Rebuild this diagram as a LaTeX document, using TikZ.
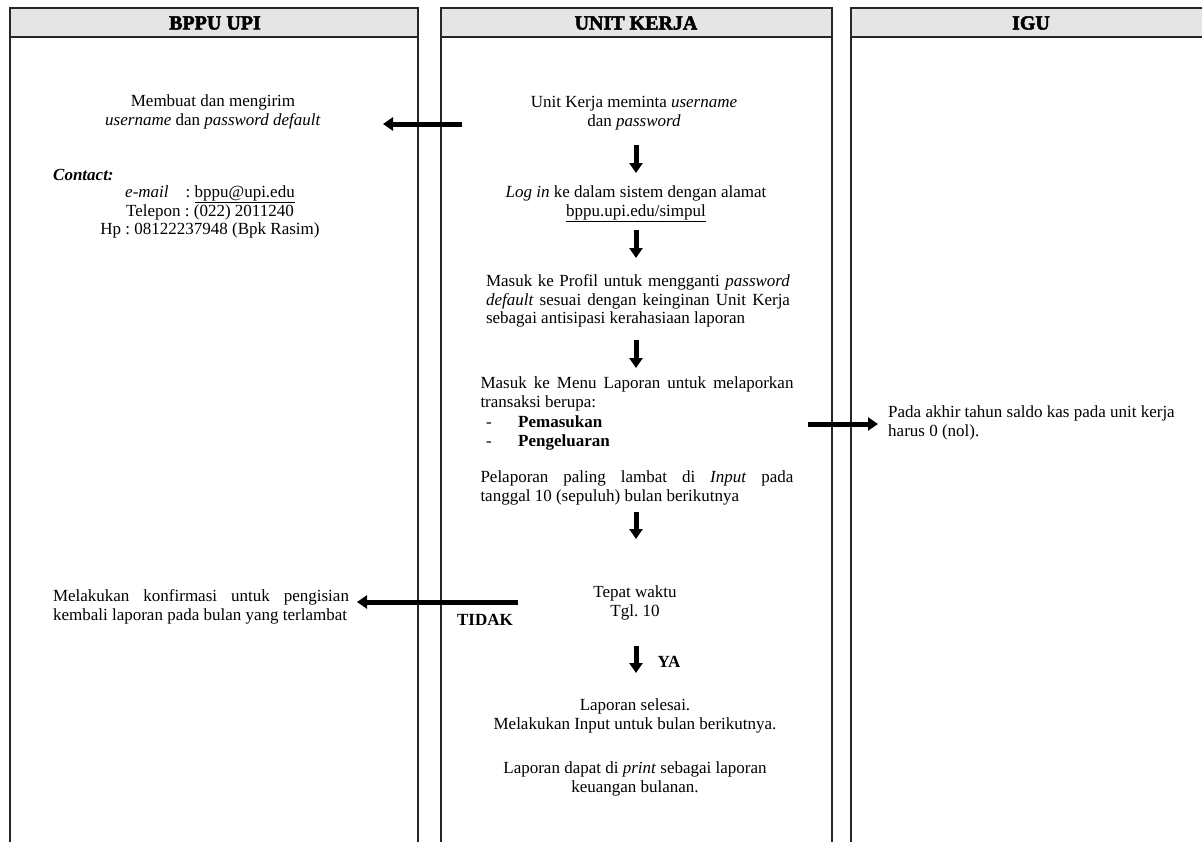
\documentclass[tikz,border=0pt]{standalone}
\usepackage{fontspec}
\setmainfont{Liberation Serif}
\newfontfamily\hfont[FakeBold=2.5]{Liberation Serif Bold}
\usetikzlibrary{arrows.meta}
\frenchspacing
\begin{document}
\begin{tikzpicture}[x=1pt,y=-1pt,
  lane/.style={draw=black!85,line width=1.6pt},
  headbox/.style={draw=black!85,line width=1.6pt,fill=gray!20},
  htxt/.style={font=\fontsize{20}{22}\selectfont\hfont,inner sep=0pt},
  txt/.style={font=\fontsize{17}{18.8}\selectfont,align=center,inner sep=0pt},
  ltxt/.style={font=\fontsize{17}{18.8}\selectfont,align=left,inner sep=0pt},
  jtxt/.style={font=\fontsize{17}{18.8}\selectfont,align=justify,inner sep=0pt},
  btxt/.style={font=\fontsize{17}{18.8}\selectfont\bfseries,inner sep=0pt},
  flow/.style={line width=5pt,-{Triangle[length=10pt,width=13pt]}},
]
\useasboundingbox (0,0) rectangle (1202,841);
\begin{scope}
\clip (0,0) rectangle (1202,841);
% lanes
\draw[lane] (10,850) -- (10,8) -- (418,8) -- (418,850);
\draw[lane] (441,850) -- (441,8) -- (832,8) -- (832,850);
\draw[lane] (851,850) -- (851,8) -- (1215,8) -- (1215,850);
\draw[headbox] (10,8) rectangle (418,37);
\draw[headbox] (441,8) rectangle (832,37);
\draw[headbox] (851,8) rectangle (1215,37);
\end{scope}
\node[htxt] (h1) at (215,23) {BPPU UPI};
\node[htxt] (h2) at (636,23) {UNIT KERJA};
\node[htxt] (h3) at (1031,23) {IGU};

% BPPU column
\node[txt] (buat) at (213,112) {Membuat dan mengirim\\\textit{username} dan \textit{password default}};
\node[ltxt,anchor=west] (contact) at (53,175) {\textbf{\textit{Contact:}}};
\node[txt] (kontak) at (210,212) {\textit{e-mail}\quad: \underline{bppu@upi.edu}\\Telepon : (022) 2011240\\Hp : 08122237948 (Bpk Rasim)};
\node[jtxt,text width=296pt] (konf) at (201,607) {Melakukan konfirmasi untuk pengisian\linebreak kembali laporan pada bulan yang terlambat};

% Unit kerja column
\node[txt] (minta) at (634,113) {Unit Kerja meminta \textit{username}\\dan \textit{password}};
\node[txt] (login) at (636,204) {\textit{Log in} ke dalam sistem dengan alamat\\\underline{bppu.upi.edu/simpul}};
\node[jtxt,text width=304pt] (profil) at (638,301) {Masuk ke Profil untuk mengganti \textit{password}\linebreak \textit{default} sesuai dengan keinginan Unit Kerja\linebreak sebagai antisipasi kerahasiaan laporan};
\node[jtxt,text width=313pt] (menu) at (637,394) {Masuk ke Menu Laporan untuk melaporkan\linebreak transaksi berupa:};
\node[ltxt,anchor=base west] (d1) at (486,427) {-};
\node[btxt,anchor=base west] (pem) at (518,427) {Pemasukan};
\node[ltxt,anchor=base west] (d2) at (486,446) {-};
\node[btxt,anchor=base west] (peng) at (518,446) {Pengeluaran};
\node[jtxt,text width=313pt] (pel) at (637,488) {Pelaporan paling lambat di \textit{Input} pada\linebreak tanggal 10 (sepuluh) bulan berikutnya};
\node[txt] (tepat) at (635,603) {Tepat waktu\\Tgl. 10};
\node[btxt] (tidak) at (485,620) {TIDAK};
\node[btxt] (ya) at (669,662) {YA};
\node[txt] (selesai) at (635,716) {Laporan selesai.\\Melakukan Input untuk bulan berikutnya.};
\node[txt] (print) at (635,779) {Laporan dapat di \textit{print} sebagai laporan\\keuangan bulanan.};

% IGU column
\node[ltxt,anchor=west] (saldo) at (888,423) {Pada akhir tahun saldo kas pada unit kerja\\harus 0 (nol).};

% connectors
\coordinate (a1s) at (462,124); \coordinate (a1e) at (383,124);
\draw[flow] (a1s) -- (a1e);
\draw[flow] (636,145) coordinate (d1s) -- (636,173) coordinate (d1e);
\draw[flow] (636,230) coordinate (d2s) -- (636,258) coordinate (d2e);
\draw[flow] (636,340) coordinate (d3s) -- (636,368) coordinate (d3e);
\draw[flow] (636,512) coordinate (d4s) -- (636,539) coordinate (d4e);
\draw[flow] (636,646) coordinate (d5s) -- (636,673) coordinate (d5e);
\draw[flow] (518,602) coordinate (ts) -- (357,602) coordinate (te);
\draw[flow] (808,424) coordinate (ss) -- (878,424) coordinate (se);
\end{tikzpicture}
\end{document}
